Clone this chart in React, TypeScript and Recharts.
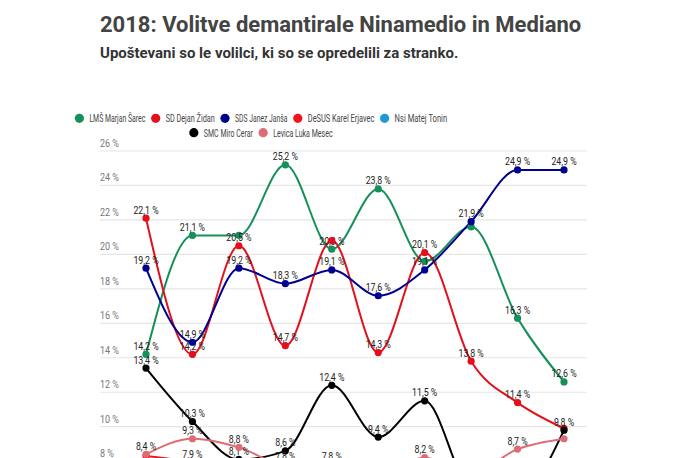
import React from "react";
import { LineChart, Line, XAxis, YAxis, CartesianGrid } from "recharts";

const categories = [
  "Mediana 1",
  "Ninamedia 1",
  "Mediana 2",
  "Ninamedia 2",
  "Mediana 3",
  "Ninamedia 3",
  "Mediana 4",
  "Ninamedia 4",
  "Mediana 5",
  "Volitve",
];

const lms = [14.2, 21.1, 21.1, 25.2, 20.3, 23.8, 19.6, 21.6, 16.3, 12.6];
const sd = [22.1, 14.2, 20.5, 14.7, 20.8, 14.3, 20.1, 13.8, 11.4, 9.9];
const sds = [19.2, 14.9, 19.2, 18.3, 19.1, 17.6, 19.1, 21.9, 24.9, 24.9];
const desus = [8.3, 7.9, 7.0, 6.6, 7.1, 6.3, 5.9, 5.5, 5.4, 4.9];
const nsi = [5.6, 5.9, 6.3, 6.0, 6.5, 6.2, 6.8, 6.9, 6.6, 7.2];
const smc = [13.4, 10.3, 8.1, 8.6, 12.4, 9.4, 11.5, 6.4, 6.0, 9.8];
const levica = [8.4, 9.3, 8.8, 7.8, 7.8, 7.4, 8.2, 7.3, 8.7, 9.3];

const yTicks = [0, 2, 4, 6, 8, 10, 12, 14, 16, 18, 20, 22, 24, 26];

// labels that the original hides because they collide
const series = [
  { key: "lms", name: "LMŠ Marjan Šarec", color: "#16905a", values: lms, hidden: [2, 6, 7] },
  { key: "sd", name: "SD Dejan Židan", color: "#e3101b", values: sd, hidden: [4, 9] },
  { key: "sds", name: "SDS Janez Janša", color: "#00008e", values: sds, hidden: [] },
  { key: "desus", name: "DeSUS Karel Erjavec", color: "#f2141c", values: desus, hidden: [0] },
  { key: "nsi", name: "Nsi Matej Tonin", color: "#1a9bd2", values: nsi, hidden: [] },
  { key: "smc", name: "SMC Miro Cerar", color: "#000000", values: smc, hidden: [] },
  { key: "levica", name: "Levica Luka Mesec", color: "#de6c74", values: levica, hidden: [9] },
];

const data = categories.map((name, i) => {
  const row: Record<string, string | number> = { name };
  series.forEach((s) => (row[s.key] = s.values[i]));
  return row;
});

const fmt = (v: number) => v.toFixed(1).replace(".", ",") + " %";

const FONT = "Roboto, 'Noto Sans', sans-serif";
const PLOT_LEFT = 100;

const renderYTick = (props: any) => {
  const { y, payload } = props;
  return (
    <text
      key={`yt-${payload.value}`}
      transform={`translate(${PLOT_LEFT},${y - 4}) scale(0.82,1)`}
      fontSize={11}
      fontFamily={FONT}
      fill="#777"
      textAnchor="start"
    >
      {payload.value} %
    </text>
  );
};

const makeDot = (key: string, color: string, hidden: number[]) => (props: any) => {
  const { cx, cy, index, payload } = props;
  if (cx == null || cy == null) return <g key={`${key}-${index}`} />;
  return (
    <g key={`${key}-${index}`}>
      <circle cx={cx} cy={cy} r={3.6} fill={color} stroke="none" />
      {!hidden.includes(index) && (
        <text
          transform={`translate(${cx},${cy - 4.5}) scale(0.8,1)`}
          textAnchor="middle"
          fontSize={11}
          fontFamily={FONT}
          fill="#222"
        >
          {fmt(payload[key])}
        </text>
      )}
    </g>
  );
};

const legendRows = [[0, 1, 2, 3, 4], [5, 6]];
const LEGEND_CX = 261;

function ChartLegend() {
  return (
    <svg width={687} height={150} style={{ position: "absolute", left: 0, top: 0 }}>
      {legendRows.map((row, r) => {
        const widths = row.map((i) => series[i].name.length * 3.5);
        const total = widths.reduce((a, b) => a + b + 14.5, 0) + (row.length - 1) * 5.8;
        let cursor = LEGEND_CX - total / 2;
        const cy = 118.3 + r * 14.4;
        return row.map((i, k) => {
          const x0 = cursor;
          cursor += 14.5 + widths[k] + 5.8;
          return (
            <g key={series[i].key}>
              <circle cx={x0 + 4.5} cy={cy} r={4.6} fill={series[i].color} />
              <text
                x={x0 + 14.5}
                y={cy + 3.8}
                fontSize={11}
                fontFamily={FONT}
                fill="#444"
                textLength={widths[k]}
                lengthAdjust="spacingAndGlyphs"
              >
                {series[i].name}
              </text>
            </g>
          );
        });
      })}
    </svg>
  );
}

export default function App() {
  return (
    <div
      style={{
        position: "absolute",
        left: 0,
        top: 0,
        width: 687,
        height: 458,
        overflow: "hidden",
        background: "#fff",
        fontFamily: FONT,
      }}
    >
      <div
        style={{
          position: "absolute",
          left: 100,
          top: 12,
          fontSize: 22,
          fontWeight: 700,
          color: "#444",
          whiteSpace: "nowrap",
          lineHeight: "normal",
        }}
      >
        2018: Volitve demantirale Ninamedio in Mediano
      </div>
      <div
        style={{
          position: "absolute",
          left: 100,
          top: 43.5,
          fontSize: 15,
          fontWeight: 700,
          color: "#333",
          whiteSpace: "nowrap",
          lineHeight: "normal",
        }}
      >
        Upoštevani so le volilci, ki so se opredelili za stranko.
      </div>
      <div style={{ position: "absolute", left: 0, top: 0 }}>
        <LineChart
          width={687}
          height={640}
          data={data}
          margin={{ top: 151, right: 100, bottom: 11, left: 60 }}
        >
          <CartesianGrid vertical={false} stroke="#e6e6e6" strokeWidth={1.2} />
          <XAxis
            dataKey="name"
            type="category"
            padding={{ left: 46, right: 23 }}
            axisLine={false}
            tickLine={false}
            height={30}
            tick={{ fontSize: 11, fill: "#777", fontFamily: FONT }}
          />
          <YAxis
            width={40}
            domain={[0, 26]}
            ticks={yTicks}
            axisLine={false}
            tickLine={false}
            tick={renderYTick}
          />
          {series.map((s) => (
            <Line
              key={s.key}
              dataKey={s.key}
              name={s.name}
              type="monotone"
              stroke={s.color}
              strokeWidth={2}
              dot={makeDot(s.key, s.color, s.hidden)}
              activeDot={false}
              isAnimationActive={false}
            />
          ))}
        </LineChart>
      </div>
      <ChartLegend />
    </div>
  );
}
